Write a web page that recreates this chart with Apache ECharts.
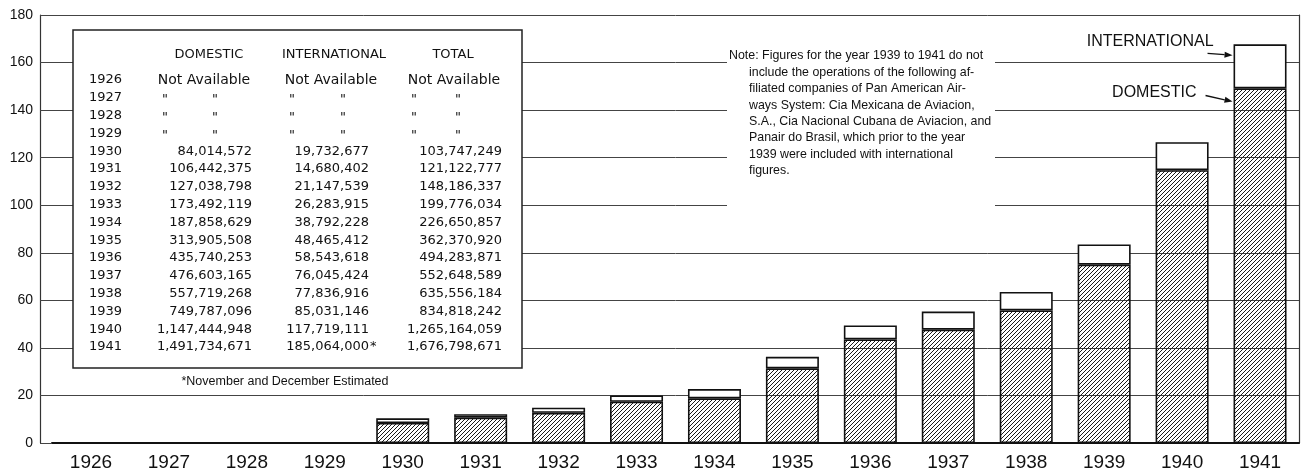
<!DOCTYPE html>
<html>
<head>
<meta charset="utf-8">
<script src="https://cdn.jsdelivr.net/npm/echarts@6/dist/echarts.min.js"></script>
<style>
  html, body { margin: 0; padding: 0; background: #fff; }
  #chart { width: 1308px; height: 474px; }
</style>
</head>
<body>
<div id="chart"></div>
<script>
  // passenger miles, by year
  const years = ['1926','1927','1928','1929','1930','1931','1932','1933','1934','1935','1936','1937','1938','1939','1940','1941'];
  const domestic = [null, null, null, null, 84014572, 106442375, 127038798, 173492119, 187858629, 313905508,
    435740253, 476603165, 557719268, 749787096, 1147444948, 1491734671];
  const international = [null, null, null, null, 19732677, 14680402, 21147539, 26283915, 38792228, 48465412,
    58543618, 76045424, 77836916, 85031146, 117719111, 185064000];
  const total = [null, null, null, null, 103747249, 121122777, 148186337, 199776034, 226650857, 362370920,
    494283871, 552648589, 635556184, 834818242, 1265164059, 1676798671];
  const estimatedYear = '1941'; // international figure for this year is partly estimated
  const columns = ['DOMESTIC', 'INTERNATIONAL', 'TOTAL'];
  const footnote = '*November and December Estimated';
  const noteLines = [
    'Note: Figures for the year 1939 to 1941 do not',
    'include the operations of the following af-',
    'filiated companies of Pan American Air-',
    'ways System: Cia Mexicana de Aviacion,',
    'S.A., Cia Nacional Cubana de Aviacion, and',
    'Panair do Brasil, which prior to the year',
    '1939 were included with international',
    'figures.'
  ];
  const axisMax = 1800000000;
  const axisStep = 200000000;
  const axisUnit = 10000000; // axis reads in tens of millions

  const chart = echarts.init(document.getElementById('chart'));

  // diagonal hatching for the domestic part
  const hatch = document.createElement('canvas');
  hatch.width = 4;
  hatch.height = 4;
  const hc = hatch.getContext('2d');
  hc.strokeStyle = '#1a1a1a';
  hc.lineWidth = 1;
  hc.beginPath();
  hc.moveTo(0, 4); hc.lineTo(4, 0);
  hc.moveTo(-1, 1); hc.lineTo(1, -1);
  hc.moveTo(3, 5); hc.lineTo(5, 3);
  hc.stroke();

  const ink = '#111';
  const tableFont = '13px "DejaVu Sans", sans-serif';
  const plainFont = '"Liberation Sans", Arial, sans-serif';

  function txt(x, y, str, font, align) {
    return {
      type: 'text', z: 101,
      style: {
        text: str, x: x, y: y, font: font, fill: ink,
        textAlign: align, textVerticalAlign: 'middle', align: align, verticalAlign: 'middle'
      }
    };
  }

  function fmt(v) {
    return v.toLocaleString('en-US');
  }

  function tableGraphics() {
    const els = [];
    els.push({
      type: 'rect', z: 100,
      shape: {x: 73, y: 30, width: 449, height: 338},
      style: {fill: '#fff', stroke: '#222', lineWidth: 1.5}
    });
    const headX = [209, 334, 453];
    columns.forEach((c, k) => els.push(txt(headX[k], 55, c, tableFont, 'center')));
    const rowY = i => 80 + i * 17.8;
    const colRight = [252, 369, 502];
    const colCenter = [204, 331, 454];
    const dittoX = [[165, 215], [292, 343], [414, 458]];
    const cols = [domestic, international, total];
    years.forEach((yr, i) => {
      const y = rowY(i);
      els.push(txt(89, y, yr, tableFont, 'left'));
      cols.forEach((arr, k) => {
        const v = arr[i];
        if (v == null) {
          if (i === 0) {
            els.push(txt(colCenter[k], y, 'Not Available', '14px "DejaVu Sans", sans-serif', 'center'));
          } else {
            dittoX[k].forEach(x => els.push(txt(x, y + 2, '"', tableFont, 'center')));
          }
        } else {
          els.push(txt(colRight[k], y, fmt(v), tableFont, 'right'));
          if (k === 1 && yr === estimatedYear) {
            els.push(txt(colRight[k] + 1, y, '*', tableFont, 'left'));
          }
        }
      });
    });
    els.push(txt(285, 382, footnote, '12.5px ' + plainFont, 'center'));
    return els;
  }

  function noteGraphics() {
    const els = [{
      type: 'rect', z: 100,
      shape: {x: 727, y: 46, width: 268, height: 166},
      style: {fill: '#fff'}
    }];
    noteLines.forEach((line, i) => {
      els.push(txt(i === 0 ? 729 : 749, 56 + i * 16.4, line, '12.4px ' + plainFont, 'left'));
    });
    return els;
  }

  const barWidth = 53;

  chart.setOption({
    animation: false,
    backgroundColor: '#fff',
    grid: {left: 52, right: 9, top: 15, bottom: 31},
    xAxis: {
      type: 'category',
      data: years,
      axisLine: {lineStyle: {color: ink, width: 2}},
      axisTick: {show: false},
      axisLabel: {fontSize: 19, color: ink, margin: 10, fontFamily: plainFont},
      splitLine: {show: false}
    },
    yAxis: [
      {
        type: 'value',
        min: 0, max: axisMax, interval: axisStep,
        offset: 12,
        axisLine: {show: true, lineStyle: {color: '#333', width: 1.2}},
        axisTick: {show: true, inside: true, length: 12, lineStyle: {color: '#444', width: 1}},
        axisLabel: {
          fontSize: 14, color: ink, margin: 7, fontFamily: plainFont,
          formatter: v => String(v / axisUnit)
        },
        splitLine: {show: true, lineStyle: {color: '#444', width: 1}}
      },
      {
        type: 'value',
        position: 'right',
        min: 0, max: axisMax, interval: axisStep,
        axisLine: {show: true, lineStyle: {color: '#333', width: 1.2}},
        axisTick: {show: false},
        axisLabel: {show: false},
        splitLine: {show: false}
      }
    ],
    series: [
      {
        name: 'Domestic',
        type: 'bar',
        stack: 'miles',
        barWidth: barWidth,
        data: domestic,
        itemStyle: {color: {image: hatch, repeat: 'repeat'}, borderColor: ink, borderWidth: 1.6}
      },
      {
        name: 'International',
        type: 'bar',
        stack: 'miles',
        barWidth: barWidth,
        data: international,
        itemStyle: {color: '#fff', borderColor: ink, borderWidth: 1.6}
      }
    ]
  });

  // labels and arrows pointing at the last bar
  const last = years.length - 1;
  const cx = chart.convertToPixel({xAxisIndex: 0}, years[last]);
  const barLeft = cx - barWidth / 2;
  const yIntl = chart.convertToPixel({yAxisIndex: 0}, total[last] - international[last] * 0.25);
  const yDom = chart.convertToPixel({yAxisIndex: 0}, domestic[last] - international[last] * 0.3);
  const yTop = chart.convertToPixel({yAxisIndex: 0}, total[last]);
  const yDomTop = chart.convertToPixel({yAxisIndex: 0}, domestic[last]);

  function arrow(x1, y1, x2, y2) {
    const a = Math.atan2(y2 - y1, x2 - x1);
    const L = 8, W = 3;
    const bx = x2 - L * Math.cos(a), by = y2 - L * Math.sin(a);
    return [
      {type: 'line', z: 101, shape: {x1: x1, y1: y1, x2: bx, y2: by}, style: {stroke: ink, lineWidth: 1.3}},
      {
        type: 'polygon', z: 101,
        shape: {points: [[x2, y2], [bx + W * Math.sin(a), by - W * Math.cos(a)], [bx - W * Math.sin(a), by + W * Math.cos(a)]]},
        style: {fill: ink}
      }
    ];
  }

  const labelFont = '16px ' + plainFont;
  const annot = [
    txt(barLeft - 20, yTop - 3, 'INTERNATIONAL', labelFont, 'right'),
    txt(barLeft - 37, yDomTop + 4, 'DOMESTIC', labelFont, 'right')
  ].concat(arrow(barLeft - 26, yIntl - 2, barLeft - 1, yIntl))
   .concat(arrow(barLeft - 28, yDom - 6, barLeft - 1, yDom));

  chart.setOption({
    graphic: {elements: tableGraphics().concat(noteGraphics(), annot)}
  });
</script>
</body>
</html>
